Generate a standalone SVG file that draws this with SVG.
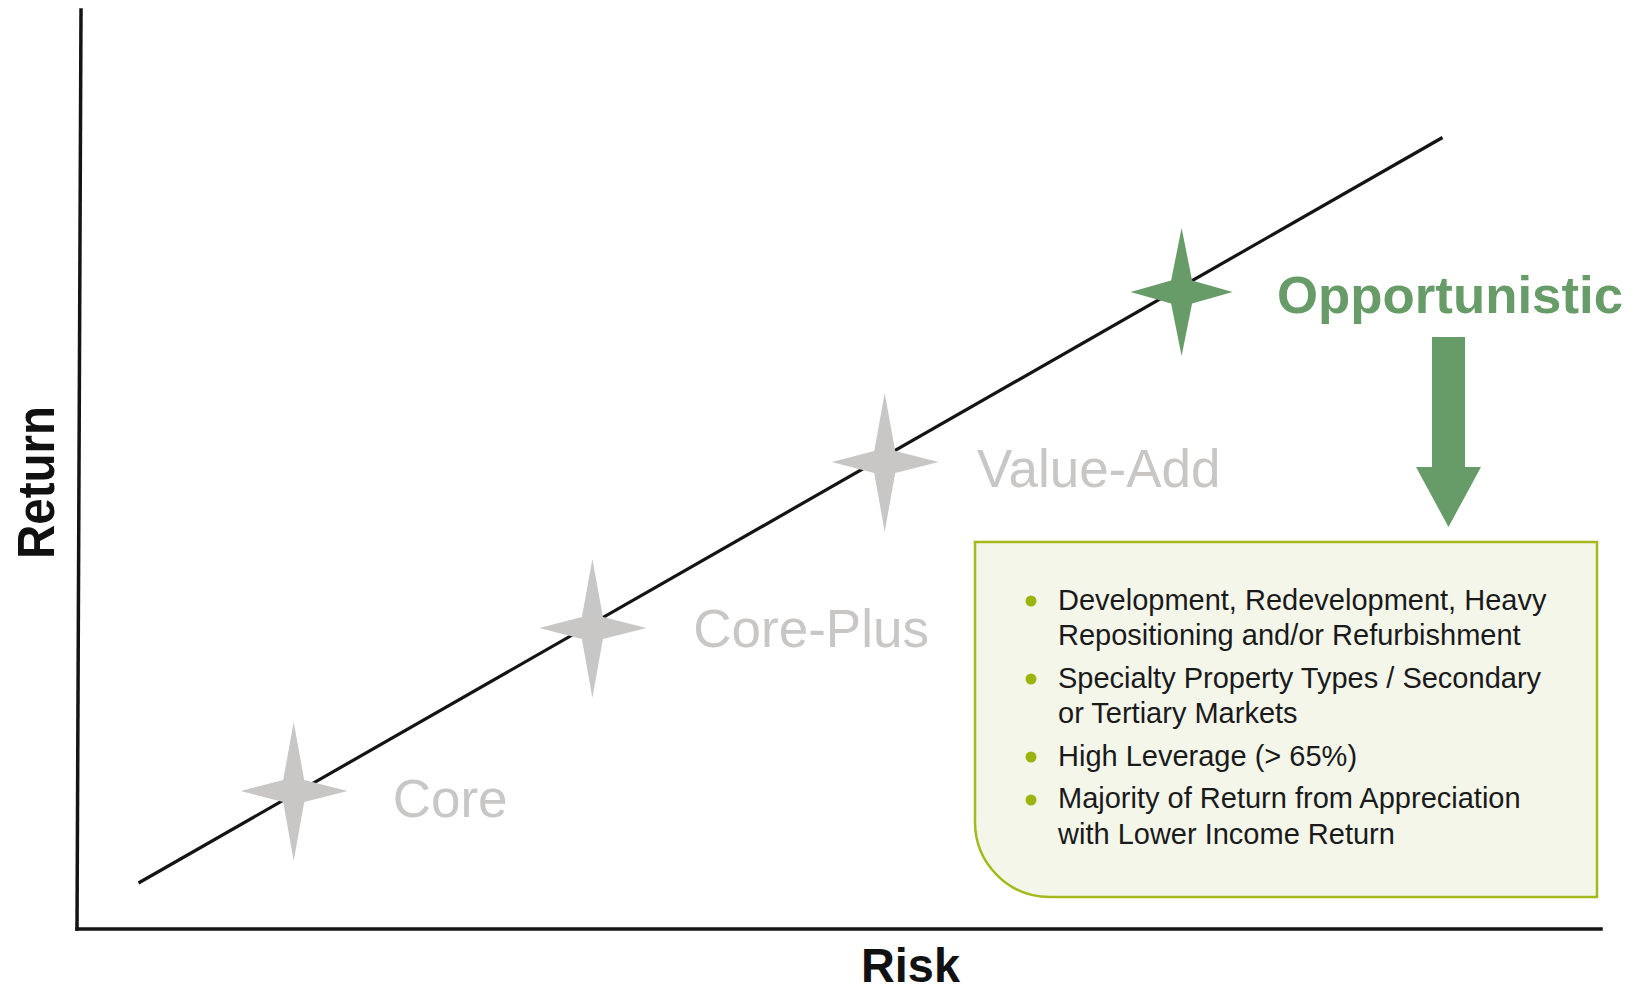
<svg xmlns="http://www.w3.org/2000/svg" xmlns:xlink="http://www.w3.org/1999/xlink" width="1633" height="992" viewBox="0 0 1633 992">
  <style>
    .axis { stroke: #141414; stroke-width: 3.5; fill: none; stroke-linecap: square; }
    .trend { stroke: #141414; stroke-width: 3.2; fill: none; }
    .gray { fill: #c8c7c6; }
    .green { fill: #679b68; }
    .lbl { font-family: "Liberation Sans", Arial, sans-serif; font-size: 53px; fill: #c8c7c6; }
    .title { font-family: "Liberation Sans", Arial, sans-serif; font-weight: bold; fill: #111111; }
    .opp { font-family: "Liberation Sans", Arial, sans-serif; font-weight: bold; font-size: 52px; fill: #679b68; }
    .bul { font-family: "Liberation Sans", Arial, sans-serif; font-size: 29px; fill: #1a1a1a; }
    .dot { fill: #9db40f; }
  </style>
  <defs>
    <path id="star" d="M0,-69 L10.5,-11 L54,0 L10.5,11 L0,70 L-10.5,11 L-53,0 L-10.5,-11 Z"/>
    <path id="star2" d="M0,-64 L10.5,-11.5 L51,0 L10.5,11.5 L0,64 L-10.5,11.5 L-51,0 L-10.5,-11.5 Z"/>
  </defs>
  <rect width="1633" height="992" fill="#ffffff"/>

  <g id="connectors">
    <line class="axis" x1="81" y1="10" x2="77" y2="929"/>
    <line class="axis" x1="77" y1="929" x2="1601" y2="929"/>
    <line class="trend" x1="138.5" y1="883" x2="1442.5" y2="137.5"/>
  </g>

  <g id="axis-labels">
    <text class="title" font-size="51" text-anchor="middle" textLength="153" lengthAdjust="spacingAndGlyphs" transform="translate(54,482.5) rotate(-90)">Return</text>
    <text class="title" font-size="49" text-anchor="middle" textLength="99" lengthAdjust="spacingAndGlyphs" x="910.5" y="981.5">Risk</text>
  </g>

  <g id="core">
    <use xlink:href="#star" class="gray" transform="translate(293.7,791)"/>
    <text class="lbl" x="392.7" y="817">Core</text>
  </g>

  <g id="core-plus">
    <use xlink:href="#star" class="gray" transform="translate(592.4,628)"/>
    <text class="lbl" x="693.3" y="646.7">Core-Plus</text>
  </g>

  <g id="value-add">
    <use xlink:href="#star" class="gray" transform="translate(884.7,461.9)"/>
    <text class="lbl" x="977" y="487">Value-Add</text>
  </g>

  <g id="opportunistic">
    <use xlink:href="#star2" class="green" transform="translate(1181.6,292)"/>
    <text class="opp" x="1277" y="312.5" textLength="346" lengthAdjust="spacingAndGlyphs">Opportunistic</text>
  </g>

  <g id="arrow">
    <path class="green" d="M1432,337 L1465,337 L1465,467 L1481,467 L1448.5,527 L1416,467 L1432,467 Z"/>
  </g>

  <g id="details-box">
    <path d="M975,542 L1597,542 L1597,897 L1050,897 A75,75 0 0 1 975,822 Z" fill="#f4f6ea" stroke="#a3b91c" stroke-width="2.5"/>
    <circle class="dot" cx="1031" cy="601" r="5.5"/>
    <circle class="dot" cx="1031" cy="679" r="5.5"/>
    <circle class="dot" cx="1031" cy="757" r="5.5"/>
    <circle class="dot" cx="1031" cy="800" r="5.5"/>
    <text class="bul" x="1058" y="609.5">Development, Redevelopment, Heavy</text>
    <text class="bul" x="1058" y="645">Repositioning and/or Refurbishment</text>
    <text class="bul" x="1058" y="687.5">Specialty Property Types / Secondary</text>
    <text class="bul" x="1058" y="723">or Tertiary Markets</text>
    <text class="bul" x="1058" y="765.5">High Leverage (&gt; 65%)</text>
    <text class="bul" x="1058" y="808">Majority of Return from Appreciation</text>
    <text class="bul" x="1058" y="843.5">with Lower Income Return</text>
  </g>
</svg>
